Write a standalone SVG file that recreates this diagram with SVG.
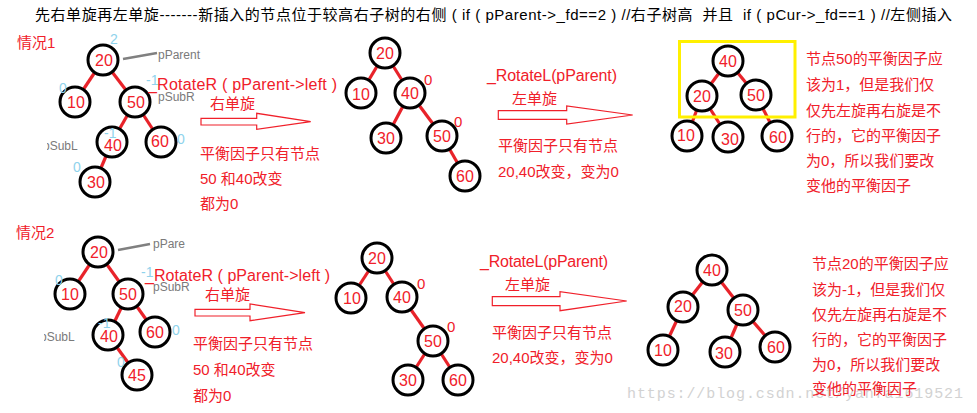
<svg xmlns="http://www.w3.org/2000/svg" width="977" height="413" viewBox="0 0 977 413">
<defs>
<style>
.t{font-family:"Liberation Sans","Noto Sans CJK SC",sans-serif;}
.hd{font-size:15px;fill:#000;white-space:pre;}
.r{fill:#f0202a;}
.cn{font-size:15px;}
.rot{font-size:16px;white-space:pre;}
.nt{font-size:16px;fill:#f0202a;text-anchor:middle;}
.bf{font-size:14px;fill:#8fd3ec;}
.bz{font-size:15px;fill:#f0202a;}
.gl{font-size:12px;fill:#7a7a7a;}
.n{fill:#fff;stroke:#000;stroke-width:3;}
.e{stroke:#e8232a;stroke-width:3.2;stroke-linecap:butt;fill:none;}
.ar{fill:#fff;stroke:#f0202a;stroke-width:1.2;}
.ptr{stroke:#808080;stroke-width:2.5;}
.wm{font-family:"Liberation Mono",monospace;font-size:15px;fill:#d2d2d2;}
</style>
<clipPath id="clipL1"><rect x="47" y="135" width="44" height="20"/></clipPath>
<clipPath id="clipL2"><rect x="44" y="326" width="44" height="20"/></clipPath>
</defs>
<rect width="977" height="413" fill="#fff"/>

<text class="wm" x="627" y="398" textLength="336" lengthAdjust="spacing">https://blog.csdn.net/yanfa1619521</text>

<text id="title" class="t hd" x="35" y="20" textLength="917" lengthAdjust="spacing">先右单旋再左单旋-------新插入的节点位于较高右子树的右侧 ( if ( pParent-&gt;_fd==2 ) //右子树高  并且  if ( pCur-&gt;_fd==1 ) //左侧插入</text>

<text class="t cn r" x="17" y="48">情况1</text>
<text class="t cn r" x="16" y="238">情况2</text>

<g id="connectors">
<line class="e" x1="103" y1="60" x2="75" y2="102"/>
<line class="e" x1="103" y1="60" x2="135" y2="102"/>
<line class="e" x1="135" y1="102" x2="112" y2="142"/>
<line class="e" x1="135" y1="102" x2="161" y2="142"/>
<line class="e" x1="112" y1="142" x2="95" y2="182"/>
<line class="e" x1="385" y1="53" x2="361" y2="93"/>
<line class="e" x1="385" y1="53" x2="410" y2="93"/>
<line class="e" x1="410" y1="93" x2="386" y2="138"/>
<line class="e" x1="410" y1="93" x2="442" y2="136"/>
<line class="e" x1="442" y1="136" x2="465" y2="176"/>
<line class="e" x1="728" y1="61" x2="702" y2="96"/>
<line class="e" x1="728" y1="61" x2="756" y2="95"/>
<line class="e" x1="702" y1="96" x2="687" y2="136"/>
<line class="e" x1="702" y1="96" x2="728" y2="137"/>
<line class="e" x1="756" y1="95" x2="777" y2="136"/>
<line class="e" x1="98" y1="252" x2="70" y2="294"/>
<line class="e" x1="98" y1="252" x2="128" y2="294"/>
<line class="e" x1="128" y1="294" x2="108" y2="335"/>
<line class="e" x1="128" y1="294" x2="155" y2="332"/>
<line class="e" x1="108" y1="335" x2="137" y2="375"/>
<line class="e" x1="377" y1="258" x2="351" y2="298"/>
<line class="e" x1="377" y1="258" x2="402" y2="297"/>
<line class="e" x1="402" y1="297" x2="433" y2="341"/>
<line class="e" x1="433" y1="341" x2="408" y2="380"/>
<line class="e" x1="433" y1="341" x2="458" y2="380"/>
<line class="e" x1="712" y1="270" x2="683" y2="307"/>
<line class="e" x1="712" y1="270" x2="743" y2="310"/>
<line class="e" x1="683" y1="307" x2="663" y2="350"/>
<line class="e" x1="743" y1="310" x2="725" y2="352"/>
<line class="e" x1="743" y1="310" x2="775" y2="347"/>
<line class="ptr" x1="123" y1="59" x2="157" y2="53"/>
<line class="ptr" x1="118" y1="250" x2="150" y2="244"/>
</g>

<g id="c1t1-20"><circle class="n" cx="103" cy="60" r="15"/><text class="t nt" x="104" y="66">20</text></g>
<g id="c1t1-10"><circle class="n" cx="75" cy="102" r="15"/><text class="t nt" x="76" y="108">10</text></g>
<g id="c1t1-50"><circle class="n" cx="135" cy="102" r="15"/><text class="t nt" x="136" y="108">50</text></g>
<g id="c1t1-40"><circle class="n" cx="112" cy="142" r="15"/><text class="t nt" x="113" y="151">40</text></g>
<g id="c1t1-60"><circle class="n" cx="161" cy="142" r="15"/><text class="t nt" x="160" y="147">60</text></g>
<g id="c1t1-30"><circle class="n" cx="95" cy="182" r="15"/><text class="t nt" x="96" y="188">30</text></g>

<g id="c1-bf">
<text class="t bf" x="110" y="44">2</text>
<text class="t bf" x="59" y="93">0</text>
<text class="t bf" x="146" y="85">-1</text>
<text class="t bf" x="104" y="138">-1</text>
<text class="t bf" x="177" y="144">0</text>
<text class="t bf" x="73" y="172">0</text>
</g>
<text class="t gl" x="158" y="59">pParent</text>
<text class="t gl" x="158" y="101">pSubR</text>
<text class="t gl" x="43" y="150" clip-path="url(#clipL1)">pSubL</text>

<text class="t rot r" x="148" y="90" textLength="189" lengthAdjust="spacing">_RotateR ( pParent-&gt;left )</text>
<text class="t cn r" x="210" y="109">右单旋</text>
<polygon class="ar" points="201,118.3 256.7,118.3 256.7,113.3 310.7,121.7 256.7,129.3 256.7,125 201,125"/>
<text class="t cn r" x="200" y="159">平衡因子只有节点</text>
<text class="t cn r" x="200" y="184">50 和40改变</text>
<text class="t cn r" x="200" y="209">都为0</text>

<g id="c1t2-20"><circle class="n" cx="385" cy="53" r="15"/><text class="t nt" x="385" y="59">20</text></g>
<g id="c1t2-10"><circle class="n" cx="361" cy="93" r="15"/><text class="t nt" x="361" y="100">10</text></g>
<g id="c1t2-40"><circle class="n" cx="410" cy="93" r="15"/><text class="t nt" x="410" y="99">40</text></g>
<g id="c1t2-30"><circle class="n" cx="386" cy="138" r="15"/><text class="t nt" x="386" y="144">30</text></g>
<g id="c1t2-50"><circle class="n" cx="442" cy="136" r="15"/><text class="t nt" x="442" y="142">50</text></g>
<g id="c1t2-60"><circle class="n" cx="465" cy="176" r="15"/><text class="t nt" x="465" y="182">60</text></g>
<text class="t bz" x="424" y="85">0</text>
<text class="t bz" x="454" y="127">0</text>

<text class="t rot r" x="487" y="81" textLength="130" lengthAdjust="spacing">_RotateL(pParent)</text>
<text class="t cn r" x="512" y="104">左单旋</text>
<polygon class="ar" points="498.3,110.7 566.7,110.7 566.7,106 632.7,115 566.7,124 566.7,119.3 498.3,119.3"/>
<text class="t cn r" x="498" y="151">平衡因子只有节点</text>
<text class="t cn r" x="498" y="177">20,40改变，变为0</text>

<rect x="679.5" y="41.5" width="115.5" height="75.5" fill="none" stroke="#fff000" stroke-width="3"/>
<g id="c1t3-40"><circle class="n" cx="728" cy="61" r="15"/><text class="t nt" x="728" y="67">40</text></g>
<g id="c1t3-20"><circle class="n" cx="702" cy="96" r="15"/><text class="t nt" x="702" y="102">20</text></g>
<g id="c1t3-50"><circle class="n" cx="756" cy="95" r="15"/><text class="t nt" x="756" y="101">50</text></g>
<g id="c1t3-10"><circle class="n" cx="687" cy="136" r="15"/><text class="t nt" x="686" y="141">10</text></g>
<g id="c1t3-30"><circle class="n" cx="728" cy="137" r="15"/><text class="t nt" x="730" y="145">30</text></g>
<g id="c1t3-60"><circle class="n" cx="777" cy="136" r="15"/><text class="t nt" x="778" y="143">60</text></g>

<text class="t cn r" x="806" y="64">节点50的平衡因子应</text>
<text class="t cn r" x="806" y="90">该为1，但是我们仅</text>
<text class="t cn r" x="806" y="116">仅先左旋再右旋是不</text>
<text class="t cn r" x="806" y="141">行的，它的平衡因子</text>
<text class="t cn r" x="806" y="166">为0，所以我们要改</text>
<text class="t cn r" x="806" y="191">变他的平衡因子</text>

<g id="c2t1-20"><circle class="n" cx="98" cy="252" r="15"/><text class="t nt" x="99" y="258">20</text></g>
<g id="c2t1-10"><circle class="n" cx="70" cy="294" r="15"/><text class="t nt" x="70" y="300">10</text></g>
<g id="c2t1-50"><circle class="n" cx="128" cy="294" r="15"/><text class="t nt" x="128" y="300">50</text></g>
<g id="c2t1-40"><circle class="n" cx="108" cy="335" r="15"/><text class="t nt" x="109" y="342">40</text></g>
<g id="c2t1-60"><circle class="n" cx="155" cy="332" r="15"/><text class="t nt" x="155" y="338">60</text></g>
<g id="c2t1-45"><circle class="n" cx="137" cy="375" r="15"/><text class="t nt" x="137" y="381">45</text></g>

<g id="c2-bf">
<text class="t bf" x="55" y="285">0</text>
<text class="t bf" x="141" y="277">-1</text>
<text class="t bf" x="98" y="328">-1</text>
<text class="t bf" x="172" y="335">0</text>
<text class="t bf" x="117" y="367">0</text>
</g>
<text class="t gl" x="153" y="248">pPare</text>
<text class="t gl" x="153" y="291">pSubR</text>
<text class="t gl" x="40" y="341" clip-path="url(#clipL2)">pSubL</text>

<text class="t rot r" x="145" y="281" textLength="185" lengthAdjust="spacing">_RotateR ( pParent-&gt;left )</text>
<text class="t cn r" x="205" y="300">右单旋</text>
<polygon class="ar" points="195,309.3 250,309.3 250,304 305,312.7 250,320.7 250,316 195,316"/>
<text class="t cn r" x="193" y="349">平衡因子只有节点</text>
<text class="t cn r" x="193" y="375">50 和40改变</text>
<text class="t cn r" x="193" y="401">都为0</text>

<g id="c2t2-20"><circle class="n" cx="377" cy="258" r="15"/><text class="t nt" x="377" y="264">20</text></g>
<g id="c2t2-10"><circle class="n" cx="351" cy="298" r="15"/><text class="t nt" x="352" y="304">10</text></g>
<g id="c2t2-40"><circle class="n" cx="402" cy="297" r="15"/><text class="t nt" x="402" y="303">40</text></g>
<g id="c2t2-50"><circle class="n" cx="433" cy="341" r="15"/><text class="t nt" x="433" y="347">50</text></g>
<g id="c2t2-30"><circle class="n" cx="408" cy="380" r="15"/><text class="t nt" x="408" y="386">30</text></g>
<g id="c2t2-60"><circle class="n" cx="458" cy="380" r="15"/><text class="t nt" x="458" y="386">60</text></g>
<text class="t bz" x="417" y="289">0</text>
<text class="t bz" x="447" y="332">0</text>

<text class="t rot r" x="480" y="267" textLength="128" lengthAdjust="spacing">_RotateL(pParent)</text>
<text class="t cn r" x="505" y="290">左单旋</text>
<polygon class="ar" points="492.3,296.7 560,296.7 560,291.7 626.7,301 560,310.7 560,305.7 492.3,305.7"/>
<text class="t cn r" x="492" y="338">平衡因子只有节点</text>
<text class="t cn r" x="492" y="363">20,40改变，变为0</text>

<g id="c2t3-40"><circle class="n" cx="712" cy="270" r="15"/><text class="t nt" x="712" y="276">40</text></g>
<g id="c2t3-20"><circle class="n" cx="683" cy="307" r="15"/><text class="t nt" x="683" y="312">20</text></g>
<g id="c2t3-50"><circle class="n" cx="743" cy="310" r="15"/><text class="t nt" x="743" y="316">50</text></g>
<g id="c2t3-10"><circle class="n" cx="663" cy="350" r="15"/><text class="t nt" x="663" y="356">10</text></g>
<g id="c2t3-30"><circle class="n" cx="725" cy="352" r="15"/><text class="t nt" x="724" y="359">30</text></g>
<g id="c2t3-60"><circle class="n" cx="775" cy="347" r="15"/><text class="t nt" x="776" y="353">60</text></g>

<text class="t cn r" x="812" y="269">节点20的平衡因子应</text>
<text class="t cn r" x="812" y="295">该为-1，但是我们仅</text>
<text class="t cn r" x="812" y="320">仅先左旋再右旋是不</text>
<text class="t cn r" x="812" y="345">行的，它的平衡因子</text>
<text class="t cn r" x="812" y="370">为0，所以我们要改</text>
<text class="t cn r" x="812" y="394">变他的平衡因子</text>
</svg>
